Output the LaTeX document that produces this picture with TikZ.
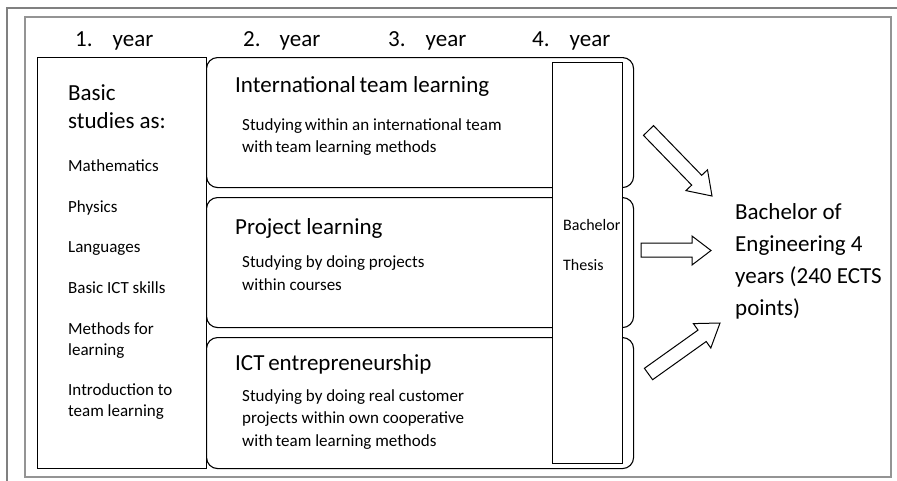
\documentclass[tikz,border=0pt]{standalone}
\usepackage{fontspec}
\setmainfont{Carlito}
\begin{document}
\begin{tikzpicture}[x=1pt,y=-1pt,
  big/.style={font=\fontsize{23}{28}\selectfont, anchor=base west, inner sep=0pt},
  small/.style={font=\fontsize{17}{20}\selectfont, anchor=base west, inner sep=0pt},
  thesisfont/.style={font=\fontsize{16}{19}\selectfont, anchor=base west, inner sep=0pt},
  plainbox/.style={draw=black, line width=1.1pt, inner sep=0pt, anchor=north west},
  rbox/.style={draw=black, line width=1.1pt, rounded corners=11pt, inner sep=0pt, anchor=north west},
  blockarrow/.style={draw=black, line width=1pt, fill=white, line join=miter},
  outerframe/.style={draw=black!50, line width=2pt},
  innerframe/.style={draw=black!42, line width=1.3pt}
]
\useasboundingbox (0,0) rectangle (897,480);
% frames
\draw[outerframe] (7,481) -- (7,8) -- (898,8);
\draw[innerframe] (25,17) rectangle (891,477);

% year labels
\node[big] (y1) at (75,46) {1.\hspace{20pt}year};
\node[big] (y2) at (243,46) {2.\hspace{19pt}year};
\node[big] (y3) at (388,46) {3.\hspace{20pt}year};
\node[big] (y4) at (532,46) {4.\hspace{20pt}year};

% left box
\node[plainbox, minimum width=169pt, minimum height=411pt] (basic) at (37,57) {};

% rounded boxes
\node[rbox, minimum width=427pt, minimum height=130pt] (itl) at (206,57) {};
\node[rbox, minimum width=427pt, minimum height=130pt] (pl) at (206,197) {};
\node[rbox, minimum width=427pt, minimum height=131pt] (ict) at (206,337) {};

% thesis box
\node[plainbox, fill=white, minimum width=70pt, minimum height=401pt] (thesis) at (552,62) {};

% left box texts
\node[big] (b1) at (68,100) {Basic};
\node[big] (b2) at (68,128) {studies as:};
\node[small] (b3) at (68,171) {Mathematics};
\node[small] (b4) at (68,212) {Physics};
\node[small] (b5) at (68,252) {Languages};
\node[small] (b6) at (68,293) {Basic ICT skills};
\node[small] (b7) at (68,334) {Methods for};
\node[small] (b8) at (68,355) {learning};
\node[small] (b9) at (68,395) {Introduction to};
\node[small] (b10) at (68,416) {team learning};

% box texts
\node[big] (t1) at (235,92) {International\hspace{-1.5pt} team learning};
\node[small] (t1a) at (242,130) {Studying\hspace{-1pt} within an international team};
\node[small] (t1b) at (242,152) {with\hspace{-1pt} team learning methods};

\node[big] (t2) at (235,234) {Project learning};
\node[small] (t2a) at (242,267) {Studying by doing projects};
\node[small] (t2b) at (242,290) {within courses};

\node[big] (t3) at (235,370) {ICT\hspace{-1.5pt} entrepreneurship};
\node[small] (t3a) at (242,401) {Studying by doing real customer};
\node[small] (t3b) at (242,423) {projects within own cooperative};
\node[small] (t3c) at (242,446) {with\hspace{-1pt} team learning methods};

% thesis text
\node[thesisfont] (th1) at (563,230) {Bachelor};
\node[thesisfont] (th2) at (563,270) {Thesis};

% result text
\node[big] (r1) at (735,219) {Bachelor of};
\node[big] (r2) at (735,251) {Engineering 4};
\node[big] (r3) at (735,283) {years (240 ECTS};
\node[big] (r4) at (735,315) {points)};

% block arrows
\draw[blockarrow] (643.5,135.4) -- (691.7,185.1) -- (685.9,190.6) -- (712,196)
  -- (707.5,169.8) -- (701.7,175.3) -- (653.5,125.6) -- cycle;
\draw[blockarrow] (641,243) -- (692,243) -- (692,236) -- (711,250.5)
  -- (692,265) -- (692,257) -- (641,257) -- cycle;
\draw[blockarrow] (644.4,368.3) -- (698.0,330.1) -- (693.4,323.6) -- (720,323)
  -- (710.8,348.0) -- (706.2,341.5) -- (652.6,379.7) -- cycle;
\end{tikzpicture}
\end{document}
